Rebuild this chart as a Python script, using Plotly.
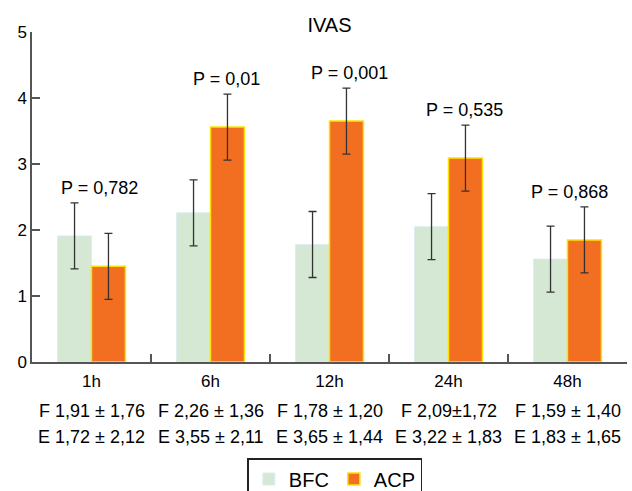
import plotly.graph_objects as go

categories = ["1h", "6h", "12h", "24h", "48h"]
bfc_values = [1.91, 2.26, 1.78, 2.05, 1.56]
acp_values = [1.45, 3.56, 3.65, 3.09, 1.85]
bfc_errors = [0.5, 0.5, 0.5, 0.5, 0.5]
acp_errors = [0.5, 0.5, 0.5, 0.5, 0.5]
p_labels = ["P = 0,782", "P = 0,01", "P = 0,001", "P = 0,535", "P = 0,868"]
f_labels = ["F 1,91 ± 1,76", "F 2,26 ± 1,36", "F 1,78 ± 1,20", "F 2,09±1,72", "F 1,59 ± 1,40"]
e_labels = ["E 1,72 ± 2,12", "E 3,55 ± 2,11", "E 3,65 ± 1,44", "E 3,22 ± 1,83", "E 1,83 ± 1,65"]

FONT = "Liberation Sans, Arial, sans-serif"

fig = go.Figure()
fig.add_trace(go.Bar(
    name="BFC", x=categories, y=bfc_values,
    marker=dict(color="#d4e8d3", line=dict(color="#dcedf1", width=1)),
    error_y=dict(type="data", array=bfc_errors, color="#333333", thickness=1.3, width=4),
))
fig.add_trace(go.Bar(
    name="ACP", x=categories, y=acp_values,
    marker=dict(color="#f26e21", line=dict(color="#fbe300", width=1.5)),
    error_y=dict(type="data", array=acp_errors, color="#333333", thickness=1.3, width=4),
))

p_xshift = [8, 16, 20, 16, 2]
for i, c in enumerate(categories):
    top = max(bfc_values[i] + bfc_errors[i], acp_values[i] + acp_errors[i])
    fig.add_annotation(x=c, y=top, xref="x", yref="y", text=p_labels[i], showarrow=False,
                       yanchor="middle", yshift=15, xshift=p_xshift[i],
                       font=dict(family=FONT, size=18, color="black"))
    fig.add_annotation(x=c, y=-0.148, xref="x", yref="paper", text=f_labels[i], showarrow=False,
                       yanchor="middle", font=dict(family=FONT, size=18, color="black"))
    fig.add_annotation(x=c, y=-0.227, xref="x", yref="paper", text=e_labels[i], showarrow=False,
                       yanchor="middle", font=dict(family=FONT, size=18, color="black"))

fig.update_layout(
    width=632, height=491,
    margin=dict(l=32, r=5, t=32, b=129),
    paper_bgcolor="white", plot_bgcolor="white",
    barmode="group", bargap=0.43, bargroupgap=0,
    title=dict(text="IVAS", x=0.5, xref="paper", xanchor="center", y=1 - 25 / 491, yanchor="middle",
               font=dict(family=FONT, size=20, color="black")),
    font=dict(family=FONT, size=17, color="black"),
    showlegend=True,
    legend=dict(orientation="h", x=0.509, xanchor="center", xref="paper",
                y=1 - 458 / 491, yanchor="top", yref="container",
                bordercolor="#222222", borderwidth=1.5, font=dict(family=FONT, size=20, color="black"),
                itemwidth=30, traceorder="normal"),
    xaxis=dict(showline=True, linecolor="#555555", linewidth=1.5, ticks="inside", ticklen=8,
               tickcolor="#555555", tickwidth=1.5, tickson="boundaries", showgrid=False,
               ticklabelstandoff=3, automargin=False,
               tickfont=dict(family=FONT, size=17, color="black")),
    yaxis=dict(range=[0, 5], showline=True, linecolor="#555555", linewidth=1.5, ticks="inside",
               ticklen=8, tickcolor="#555555", tickwidth=1.5, showgrid=False, zeroline=False,
               automargin=False, dtick=1, tickfont=dict(family=FONT, size=17, color="black")),
)

fig.write_html("out.html", config={"displayModeBar": False},
               post_script="document.body.style.margin='0';document.body.style.padding='0';")
